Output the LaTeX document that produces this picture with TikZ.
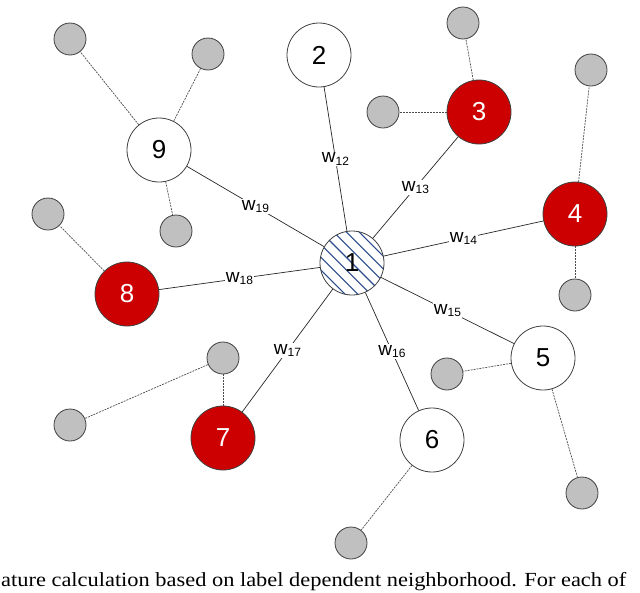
\documentclass[tikz,border=0pt]{standalone}
\usepackage{fontspec}
\setmainfont{Liberation Sans}
\newfontfamily\capfont{Liberation Serif}
\definecolor{nodered}{HTML}{CC0000}
\definecolor{leafgray}{HTML}{C0C0C0}
\definecolor{hatchblue}{HTML}{2A4C8C}
\tikzset{
  mainnode/.style={circle, draw=black!75, line width=0.8pt, minimum size=64pt, inner sep=0pt, font=\fontsize{26}{26}\selectfont},
  whitenode/.style={mainnode, fill=white},
  rednode/.style={mainnode, fill=nodered, text=white},
  leaf/.style={circle, draw=black!75, line width=0.8pt, fill=leafgray, minimum size=32pt, inner sep=0pt},
  wedge/.style={draw=black!85, line width=0.7pt},
  leafedge/.style={draw=black!70, line width=0.7pt, dash pattern=on 2pt off 1pt},
  wlabel/.style={fill=white, inner sep=0.8pt, font=\fontsize{19}{19}\selectfont},
  hatchline/.style={draw=hatchblue, line width=1.1pt},
}
\newcommand{\wl}[1]{w\raisebox{-2.5pt}{\fontsize{12}{12}\selectfont #1}}
\begin{document}
\begin{tikzpicture}[x=1pt,y=-1pt]
\useasboundingbox (0,0) rectangle (640,592);
% main nodes
\node[whitenode, path picture={
  \foreach \k in {-6,...,6}
    \draw[hatchline] ([xshift=\k*12.7pt-45pt, yshift=45pt]path picture bounding box.center) -- ++(90pt,-90pt);
}] (n1) at (352,263) {1};
\node[whitenode] (n2) at (319,55) {2};
\node[rednode] (n3) at (479,112) {3};
\node[rednode] (n4) at (575,214) {4};
\node[whitenode] (n5) at (543,358) {5};
\node[whitenode] (n6) at (432,440) {6};
\node[rednode] (n7) at (223,438) {7};
\node[rednode] (n8) at (127,294) {8};
\node[whitenode] (n9) at (159,150) {9};
% leaves
\node[leaf] (g9a) at (70,39) {};
\node[leaf] (g9b) at (208,54) {};
\node[leaf] (g9c) at (176,231) {};
\node[leaf] (g3a) at (463,23) {};
\node[leaf] (g3b) at (383,112) {};
\node[leaf] (g4a) at (591,70) {};
\node[leaf] (g4b) at (575,295) {};
\node[leaf] (g8a) at (48,214) {};
\node[leaf] (g7a) at (223,358) {};
\node[leaf] (g7b) at (70,425) {};
\node[leaf] (g5a) at (447,374) {};
\node[leaf] (g5b) at (582,493) {};
\node[leaf] (g6a) at (351,543) {};
% weighted edges
\draw[wedge] (n1) -- node[wlabel] (l12) {\wl{12}} (n2);
\draw[wedge] (n1) -- node[wlabel] (l13) {\wl{13}} (n3);
\draw[wedge] (n1) -- node[wlabel] (l14) {\wl{14}} (n4);
\draw[wedge] (n1) -- node[wlabel] (l15) {\wl{15}} (n5);
\draw[wedge] (n1) -- node[wlabel] (l16) {\wl{16}} (n6);
\draw[wedge] (n1) -- node[wlabel] (l17) {\wl{17}} (n7);
\draw[wedge] (n1) -- node[wlabel] (l18) {\wl{18}} (n8);
\draw[wedge] (n1) -- node[wlabel] (l19) {\wl{19}} (n9);
% leaf edges
\draw[leafedge] (n9) -- (g9a);
\draw[leafedge] (n9) -- (g9b);
\draw[leafedge] (n9) -- (g9c);
\draw[leafedge] (n3) -- (g3a);
\draw[leafedge] (n3) -- (g3b);
\draw[leafedge] (n4) -- (g4a);
\draw[leafedge] (n4) -- (g4b);
\draw[leafedge] (n8) -- (g8a);
\draw[leafedge] (n7) -- (g7a);
\draw[leafedge] (g7a) -- (g7b);
\draw[leafedge] (n5) -- (g5a);
\draw[leafedge] (n5) -- (g5b);
\draw[leafedge] (n6) -- (g6a);
% caption fragment
\node[anchor=base west, inner sep=0pt, font=\capfont\fontsize{20}{20}\selectfont] (cap) at (1,586) {\scalebox{1.12}[1]{ature calculation based on label dependent neighborhood. For each of}};
\end{tikzpicture}
\end{document}
